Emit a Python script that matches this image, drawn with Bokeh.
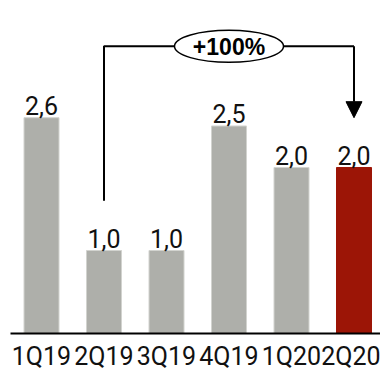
from bokeh.plotting import figure
from bokeh.models import ColumnDataSource, Range1d, FixedTicker, Arrow, NormalHead
from bokeh.core.properties import value
from bokeh.embed import file_html
from bokeh.resources import INLINE

quarters = ["1Q19", "2Q19", "3Q19", "4Q19", "1Q20", "2Q20"]
values = [2.6, 1.0, 1.0, 2.5, 2.0, 2.0]
bar_colors = ["#AEAFAA", "#AEAFAA", "#AEAFAA", "#AEAFAA", "#AEAFAA", "#9C1506"]
edge_colors = ["#D2D3CF", "#D2D3CF", "#D2D3CF", "#D2D3CF", "#D2D3CF", "#9C1506"]
growth_label = "+100%"
growth_from = 1   # index of 2Q19
growth_to = 5     # index of 2Q20

FONT = "Roboto"

x = list(range(len(quarters)))
labels = [f"{v:.1f}".replace(".", ",") for v in values]
src = ColumnDataSource(dict(x=x, top=values, color=bar_colors, edge=edge_colors, label=labels))

p = figure(width=380, height=373, output_backend="svg", toolbar_location=None,
           x_range=Range1d(-0.496, 5.424), y_range=Range1d(0, 4.012),
           min_border_left=10, min_border_right=0, min_border_top=0, min_border_bottom=40)
p.outline_line_color = None
p.grid.visible = False
p.yaxis.visible = False
p.background_fill_color = "white"

p.vbar(x="x", top="top", width=0.56, bottom=0, fill_color="color", line_color="edge",
       line_width=1, source=src)
p.text(x="x", y="top", text="label", source=src, text_align="center",
       text_baseline="alphabetic", y_offset=-12, text_font=value(FONT),
       text_font_size="25px", text_color="#111111")

# growth bracket
gap = 0.6
y_top = max(values) + 0.86
x0, x1 = x[growth_from], x[growth_to]
p.line(x=[x0, x0, x1], y=[values[growth_from] + gap, y_top, y_top], line_color="black", line_width=2)
p.add_layout(Arrow(x_start=x1, y_start=y_top, x_end=x1, y_end=values[growth_to] + gap,
                   line_color="black", line_width=2,
                   end=NormalHead(size=16, fill_color="black", line_color="black")))
xm = (x0 + x1) / 2
p.ellipse(x=[xm], y=[y_top], width=109, height=32, width_units="screen", height_units="screen",
          fill_color="white", line_color="black", line_width=1.5)
p.text(x=[xm], y=[y_top], text=[growth_label], text_align="center", text_baseline="middle",
       text_font=value("Liberation Sans"), text_font_style="bold", text_font_size="23px",
       text_color="black", y_offset=1)

ax = p.xaxis[0]
ax.ticker = FixedTicker(ticks=x)
ax.major_label_overrides = {i: q for i, q in zip(x, quarters)}
ax.axis_line_color = "black"
ax.axis_line_width = 2
ax.major_tick_line_color = None
ax.minor_tick_line_color = None
ax.major_tick_out = 0
ax.major_tick_in = 0
ax.minor_tick_out = 0
ax.major_label_standoff = 8
ax.major_label_text_font = FONT
ax.major_label_text_font_size = "25px"
ax.major_label_text_color = "#111111"

open("out.html", "w").write(file_html(p, INLINE))
